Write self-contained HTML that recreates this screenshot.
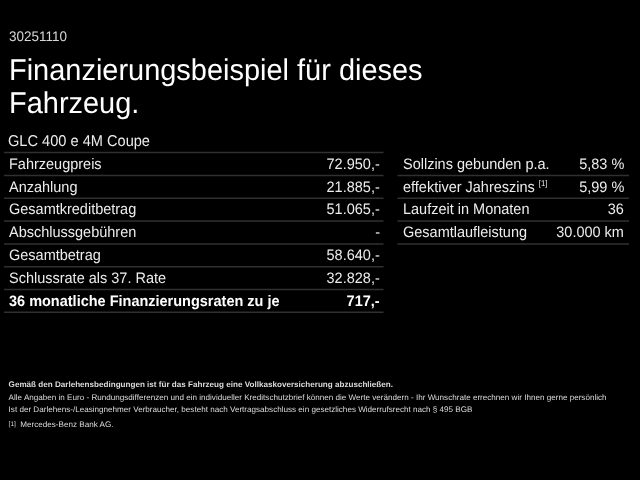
<!DOCTYPE html>
<html><head><meta charset="utf-8">
<style>
html,body{margin:0;padding:0;background:#000;}
body{width:640px;height:480px;overflow:hidden;position:relative;font-family:"Liberation Sans",sans-serif;color:#fff;text-rendering:geometricPrecision;filter:grayscale(1);}
.t{position:absolute;white-space:nowrap;line-height:1;transform-origin:0 0;}
#id{left:8.6px;top:29.8px;font-size:13.8px;color:#d8d8d8;transform:scaleX(0.978);}
.h1{left:8.5px;font-size:30px;line-height:33.3px;transform:scaleX(0.965);}
#model{left:7.8px;top:133.5px;font-size:15.6px;color:#ececec;transform:scaleX(0.936);}
.c{position:absolute;white-space:nowrap;font-size:15.2px;line-height:16px;color:#ececec;transform:scaleX(0.954);}
.a{transform-origin:0 0;} .b{transform-origin:100% 0;text-align:right;}
.bold{font-weight:bold;color:#fff;}
sup{font-size:8.2px;line-height:0;vertical-align:baseline;position:relative;top:-5.5px;}
.f{position:absolute;left:8.6px;font-size:8.1px;line-height:10px;white-space:nowrap;color:#dcdcdc;transform-origin:0 0;}
svg{position:absolute;left:0;top:0;}
</style></head><body>
<div class="t" id="id">30251110</div>
<div class="t h1" style="top:53.5px">Finanzierungsbeispiel für dieses</div>
<div class="t h1" style="top:85.9px;transform:translateY(0.6px) scaleX(0.965)">Fahrzeug.</div>
<div class="t" id="model">GLC 400 e 4M Coupe</div>

<svg width="640" height="480" viewBox="0 0 640 480">
<line x1="4" x2="383.5" y1="152.60" y2="152.60" stroke="#303030" stroke-width="1.5"/>
<line x1="4" x2="383.5" y1="175.42" y2="175.42" stroke="#303030" stroke-width="1.5"/>
<line x1="4" x2="383.5" y1="198.24" y2="198.24" stroke="#303030" stroke-width="1.5"/>
<line x1="4" x2="383.5" y1="221.06" y2="221.06" stroke="#303030" stroke-width="1.5"/>
<line x1="4" x2="383.5" y1="243.88" y2="243.88" stroke="#303030" stroke-width="1.5"/>
<line x1="4" x2="383.5" y1="266.70" y2="266.70" stroke="#303030" stroke-width="1.5"/>
<line x1="4" x2="383.5" y1="289.52" y2="289.52" stroke="#303030" stroke-width="1.5"/>
<line x1="4" x2="383.5" y1="312.34" y2="312.34" stroke="#303030" stroke-width="1.5"/>
<line x1="397.5" x2="629" y1="175.42" y2="175.42" stroke="#303030" stroke-width="1.5"/>
<line x1="397.5" x2="629" y1="198.24" y2="198.24" stroke="#303030" stroke-width="1.5"/>
<line x1="397.5" x2="629" y1="221.06" y2="221.06" stroke="#303030" stroke-width="1.5"/>
<line x1="397.5" x2="629" y1="243.88" y2="243.88" stroke="#303030" stroke-width="1.5"/>
</svg>
<div class="c a" style="left:9px;top:156.80px">Fahrzeugpreis</div><div class="c b" style="right:260.0px;top:156.80px">72.950,-</div>
<div class="c a" style="left:9px;top:179.62px">Anzahlung</div><div class="c b" style="right:260.0px;top:179.62px">21.885,-</div>
<div class="c a" style="left:9px;top:202.44px">Gesamtkreditbetrag</div><div class="c b" style="right:260.0px;top:202.44px">51.065,-</div>
<div class="c a" style="left:9px;top:225.26px">Abschlussgebühren</div><div class="c b" style="right:260.0px;top:225.26px">-</div>
<div class="c a" style="left:9px;top:248.08px">Gesamtbetrag</div><div class="c b" style="right:260.0px;top:248.08px">58.640,-</div>
<div class="c a" style="left:9px;top:270.90px">Schlussrate als 37. Rate</div><div class="c b" style="right:260.0px;top:270.90px">32.828,-</div>
<div class="c a bold" style="left:9px;top:293.72px">36 monatliche Finanzierungsraten zu je</div><div class="c b bold" style="right:260.0px;top:293.72px">717,-</div>
<div class="c a" style="left:402.6px;top:156.80px">Sollzins gebunden p.a.</div><div class="c b" style="right:16.1px;top:156.80px">5,83 %</div>
<div class="c a" style="left:402.6px;top:179.62px">effektiver Jahreszins <sup>[1]</sup></div><div class="c b" style="right:16.1px;top:179.62px">5,99 %</div>
<div class="c a" style="left:402.6px;top:202.44px">Laufzeit in Monaten</div><div class="c b" style="right:16.1px;top:202.44px">36</div>
<div class="c a" style="left:402.6px;top:225.26px">Gesamtlaufleistung</div><div class="c b" style="right:16.1px;top:225.26px">30.000 km</div>

<div class="f bold" style="top:379.7px">Gemäß den Darlehensbedingungen ist für das Fahrzeug eine Vollkaskoversicherung abzuschließen.</div>
<div class="f" style="top:393px">Alle Angaben in Euro - Rundungsdifferenzen und ein individueller Kreditschutzbrief können die Werte verändern - Ihr Wunschrate errechnen wir Ihnen gerne persönlich</div>
<div class="f" style="top:404.9px">Ist der Darlehens-/Leasingnehmer Verbraucher, besteht nach Vertragsabschluss ein gesetzliches Widerrufsrecht nach § 495 BGB</div>
<div class="f" style="top:419.6px"><span style="font-size:6.5px;position:relative;top:-1px">[1]</span>&nbsp; Mercedes-Benz Bank AG.</div>
</body></html>
